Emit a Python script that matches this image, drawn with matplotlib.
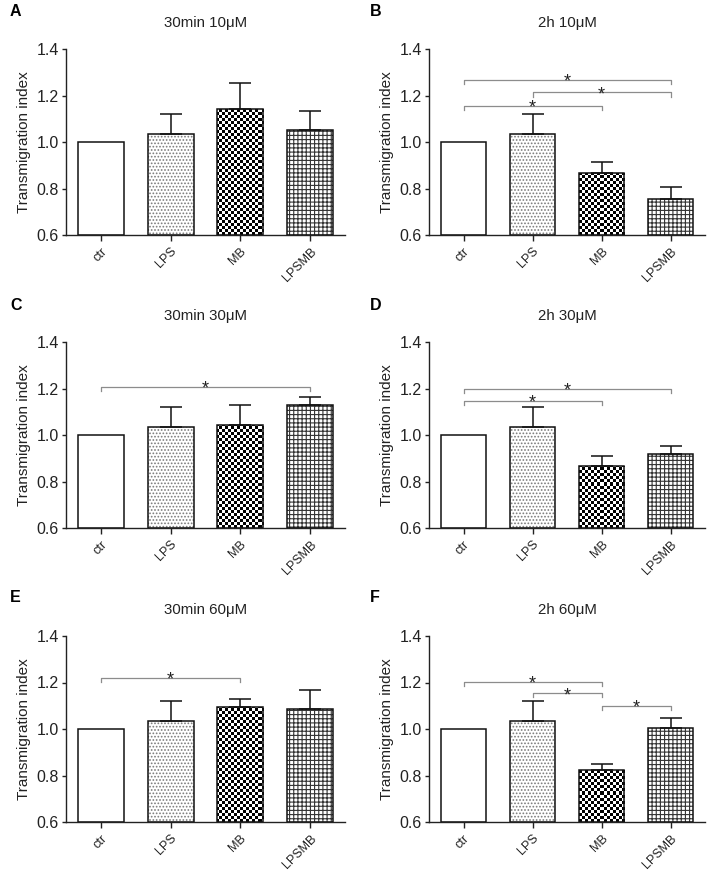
import numpy as np
import matplotlib
matplotlib.use('Agg')
import matplotlib.pyplot as plt

plt.rcParams['font.family'] = ['Liberation Sans', 'DejaVu Sans']
plt.rcParams['hatch.linewidth'] = 0.8

# ---- data ----
groups = ['ctr', 'LPS', 'MB', 'LPSMB']
letters = ['A', 'B', 'C', 'D', 'E', 'F']
titles = ['30min 10μM', '2h 10μM', '30min 30μM', '2h 30μM', '30min 60μM', '2h 60μM']

means_A = [1.0, 1.034, 1.140, 1.051]
errs_A = [0.0, 0.086, 0.112, 0.082]
means_B = [1.0, 1.034, 0.866, 0.754]
errs_B = [0.0, 0.086, 0.047, 0.051]
means_C = [1.0, 1.034, 1.041, 1.130]
errs_C = [0.0, 0.085, 0.088, 0.035]
means_D = [1.0, 1.034, 0.868, 0.918]
errs_D = [0.0, 0.085, 0.041, 0.035]
means_E = [1.0, 1.034, 1.094, 1.084]
errs_E = [0.0, 0.085, 0.036, 0.082]
means_F = [1.0, 1.034, 0.824, 1.003]
errs_F = [0.0, 0.085, 0.025, 0.046]

# significance brackets: (from group index, to group index, height)
sig_A = []
sig_B = [(0, 3, 1.268), (1, 3, 1.213), (0, 2, 1.156)]
sig_C = [(0, 3, 1.208)]
sig_D = [(0, 3, 1.199), (0, 2, 1.147)]
sig_E = [(0, 2, 1.221)]
sig_F = [(0, 2, 1.204), (1, 2, 1.154), (2, 3, 1.101)]

all_means = [means_A, means_B, means_C, means_D, means_E, means_F]
all_errs = [errs_A, errs_B, errs_C, errs_D, errs_E, errs_F]
all_sig = [sig_A, sig_B, sig_C, sig_D, sig_E, sig_F]

TXT = '#222222'
W, H = 718, 872
fig = plt.figure(figsize=(W / 100, H / 100), dpi=100)

# axes boxes in pixels: left, top, right, bottom
lefts = [66, 429]
rights = [345, 705]
tops = [49, 342, 636]
bottoms = [235, 528, 822]


def checker_image(nx, ny):
    xx, yy = np.meshgrid(np.arange(nx), np.arange(ny))
    return ((xx + yy) % 2).astype(float)


for i in range(6):
    r, c = divmod(i, 2)
    l, rr = lefts[c], rights[c]
    t, b = tops[r], bottoms[r]
    ax = fig.add_axes([l / W, 1 - b / H, (rr - l) / W, (b - t) / H])
    x = np.arange(len(groups))
    means = all_means[i]
    errs = all_errs[i]

    ax.set_xlim(-0.5, 3.5)
    ax.set_ylim(0.6, 1.4)

    bw = 0.66
    # ctr : white
    ax.bar(x[0], means[0] - 0.6, bottom=0.6, width=bw, color='white', zorder=1)
    # LPS : grey dots
    ax.bar(x[1], means[1] - 0.6, bottom=0.6, width=bw, color='white',
           hatch='.....', edgecolor='#7a7a7a', linewidth=0, zorder=1)
    # LPSMB : grid
    ax.bar(x[3], means[3] - 0.6, bottom=0.6, width=bw, color='white',
           hatch='++++', edgecolor='#333333', linewidth=0, zorder=1)
    # MB : checkerboard clipped to bar
    mb = ax.bar(x[2], means[2] - 0.6, bottom=0.6, width=bw, color='white', zorder=1)
    nx = int(round((rr - l) / 3.0))
    ny = int(round((b - t) / 3.0))
    img = ax.imshow(checker_image(nx, ny), cmap='gray_r', vmin=0, vmax=1,
                    extent=(-0.5, 3.5, 0.6, 1.4), aspect='auto',
                    interpolation='nearest', zorder=1.5)
    img.set_clip_path(mb.patches[0])
    # outlines
    ax.bar(x, np.array(means) - 0.6, bottom=0.6, width=bw, fill=False,
           edgecolor='#111111', linewidth=1.1, zorder=2)
    # error bars (upper only)
    ax.errorbar(x[1:], means[1:], yerr=[np.zeros(3), errs[1:]], fmt='none',
                ecolor='#111111', elinewidth=1.1, capsize=8, capthick=1.1, zorder=3)

    ax.set_xlim(-0.5, 3.5)
    ax.set_ylim(0.6, 1.4)

    # significance brackets
    for g1, g2, h in all_sig[i]:
        ax.plot([g1, g1, g2, g2], [h - 0.018, h, h, h - 0.018],
                color='#8c8c8c', linewidth=0.9, zorder=4, clip_on=False)
        ax.text((g1 + g2) / 2, h - 0.03, '*', ha='center', va='baseline',
                fontsize=13, color=TXT, zorder=5)

    for s in ['top', 'right']:
        ax.spines[s].set_visible(False)
    for s in ['left', 'bottom']:
        ax.spines[s].set_color('#222222')
        ax.spines[s].set_linewidth(1.0)

    ax.set_yticks([0.6, 0.8, 1.0, 1.2, 1.4])
    ax.set_yticklabels(['0.6', '0.8', '1.0', '1.2', '1.4'])
    ax.set_xticks(x)
    ax.set_xticklabels(groups, rotation=45, ha='right', rotation_mode='anchor')
    ax.tick_params(axis='both', direction='out', width=1.0,
                   color='#222222', labelcolor=TXT)
    ax.tick_params(axis='y', labelsize=11.5, pad=2, length=3)
    ax.tick_params(axis='x', labelsize=9, pad=3.5, length=4)
    ax.set_ylabel('Transmigration index', fontsize=11, color=TXT, labelpad=4)

    ax.text(0.5, 1 + 26 / (b - t), titles[i], transform=ax.transAxes,
            ha='center', va='center', fontsize=10.8, color=TXT)
    fig.text((10 + 360 * c) / W, 1 - (12 + [0, 293, 585][r]) / H, letters[i],
             fontsize=11.5, fontweight='bold', ha='left', va='center', color='black')

fig.savefig('out.png', dpi=100)
